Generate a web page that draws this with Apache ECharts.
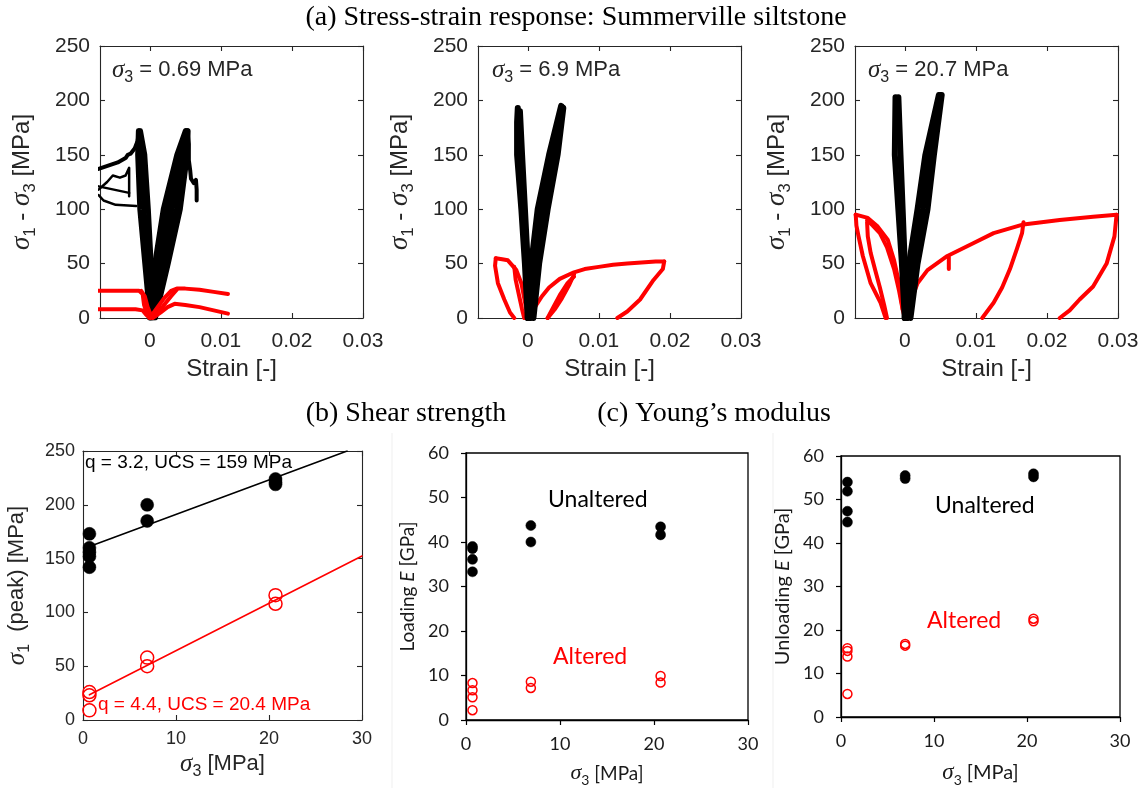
<!DOCTYPE html>
<html>
<head>
<meta charset="utf-8">
<script src="https://cdn.jsdelivr.net/npm/echarts@6/dist/echarts.min.js"></script>
<style>
  html, body { margin: 0; padding: 0; background: #fff; }
  #chart { width: 1146px; height: 788px; }
</style>
</head>
<body>
<div id="chart"></div>
<script>
// ---------- (a) stress-strain curves, [strain, sigma1 - sigma3] ----------
// sigma3 = 0.69 MPa
const s069BlackLatA = [[0, 0], [-0.0007, 50], [-0.0014, 100], [-0.0017, 150], [-0.0016, 172]];
const s069BlackLatM = [[0.0001, 0], [-0.0003, 50], [-0.0008, 100], [-0.0012, 150], [-0.00145, 172]];
const s069BlackLatB = [[0.0003, 0], [0.0002, 50], [-0.0002, 100], [-0.0007, 150], [-0.0013, 172]];
const s069BlackLatPost = [[-0.0015, 172], [-0.0017, 163], [-0.0021, 156], [-0.0027, 151], [-0.0031, 150], [-0.0034, 147], [-0.0045, 143], [-0.0072, 137]];
const s069BlackMess1 = [[-0.0072, 118], [-0.006, 125], [-0.0052, 131], [-0.0042, 129], [-0.0034, 131], [-0.0029, 138], [-0.0029, 112]];
const s069BlackMess2 = [[-0.0072, 121], [-0.0029, 115]];
const s069BlackMess3 = [[-0.0072, 113], [-0.0065, 108], [-0.0048, 104], [-0.0019, 103]];
const s069BlackAxA = [[0, 0], [0.0007, 50], [0.0019, 100], [0.0038, 150], [0.005, 172]];
const s069BlackAxA2 = [[0.0002, 0], [0.0012, 50], [0.0025, 100], [0.0042, 150], [0.0051, 172]];
const s069BlackAxB = [[0.0004, 0], [0.0016, 50], [0.0031, 100], [0.0047, 150], [0.0052, 172]];
const s069BlackAxB2 = [[0.0006, 0], [0.0021, 50], [0.0037, 100], [0.0051, 150], [0.0053, 172]];
const s069BlackAxC = [[0.0008, 0], [0.0026, 50], [0.0043, 100], [0.0053, 150], [0.0054, 172]];
const s069BlackAxPost = [[0.0053, 172], [0.0055, 160], [0.0055, 145], [0.0057, 135], [0.0058, 128], [0.0062, 124], [0.0065, 127], [0.0066, 118], [0.0066, 108]];
const s069RedLatA = [[-0.0072, 25], [-0.005, 25], [-0.003, 25], [-0.0015, 25], [-0.001, 22], [-0.0008, 12], [-0.0004, 4], [0, 0]];
const s069RedLatB = [[-0.0072, 8], [-0.004, 8], [-0.002, 8], [-0.001, 7], [-0.0005, 3], [0, 0]];
const s069RedLatC = [[-0.0012, 25], [-0.0007, 20], [-0.0003, 10], [0.0002, 2]];
const s069RedAxA = [[0, 0], [0.001, 9], [0.002, 18], [0.003, 25], [0.0038, 27], [0.005, 27], [0.007, 26], [0.009, 24], [0.011, 22]];
const s069RedAxB = [[0.0004, 0], [0.0015, 5], [0.0025, 10], [0.0035, 13], [0.005, 12], [0.007, 10], [0.009, 7], [0.011, 4]];
const s069RedAxC = [[0.0008, 2], [0.002, 12], [0.003, 20], [0.0038, 26]];

// sigma3 = 6.9 MPa
const s69BlackLatA = [[0, 0], [-0.0004, 50], [-0.0009, 100], [-0.0015, 150], [-0.0015, 180], [-0.0014, 193]];
const s69BlackLatB = [[0.0002, 0], [0, 50], [-0.0004, 100], [-0.0008, 150], [-0.0011, 190]];
const s69BlackAxA = [[0, 0], [0.0005, 50], [0.0014, 100], [0.003, 150], [0.0047, 195]];
const s69BlackAxM = [[0.0004, 0], [0.0011, 50], [0.0021, 100], [0.0036, 150], [0.00485, 194]];
const s69BlackAxB = [[0.0008, 0], [0.0016, 50], [0.0028, 100], [0.0042, 150], [0.005, 193]];
const s69RedLat = [[0, 0], [-0.0004, 15], [-0.0009, 32], [-0.0016, 44], [-0.0028, 53], [-0.0036, 54], [-0.0045, 55]];
const s69RedLatUnA = [[-0.0045, 55], [-0.0046, 48], [-0.0042, 32], [-0.0033, 17], [-0.0025, 5], [-0.0019, 0]];
const s69RedLatUnB = [[-0.0019, 47], [-0.0017, 35], [-0.0012, 20], [-0.0008, 8], [-0.0005, 0]];
const s69RedAx = [[0, 0], [0.001, 10], [0.002, 20], [0.003, 28], [0.0045, 36], [0.0065, 42], [0.008, 45], [0.01, 47], [0.012, 49], [0.014, 50], [0.016, 51], [0.018, 52], [0.0192, 52]];
const s69RedAxUn = [[0.0192, 52], [0.019, 45], [0.0177, 35], [0.0158, 17], [0.014, 6], [0.0126, 0]];
const s69RedLoopA = [[0.0065, 40], [0.0058, 30], [0.0048, 18], [0.0038, 8], [0.0028, 0]];
const s69RedLoopB = [[0.0028, 0], [0.0036, 10], [0.0046, 22], [0.0056, 32], [0.0065, 38]];

// sigma3 = 20.7 MPa
const s207BlackLatA = [[0, 0], [-0.0004, 50], [-0.0009, 100], [-0.0014, 150], [-0.0013, 203]];
const s207BlackLatB = [[0.0003, 0], [0, 50], [-0.0003, 100], [-0.0006, 150], [-0.0009, 203]];
const s207BlackAxA = [[0, 0], [0.0006, 50], [0.0018, 100], [0.0029, 150], [0.0048, 205]];
const s207BlackAxM = [[0.0004, 0], [0.0012, 50], [0.0025, 100], [0.0035, 150], [0.005, 205]];
const s207BlackAxB = [[0.0008, 0], [0.0018, 50], [0.0032, 100], [0.0041, 150], [0.0052, 205]];
const s207RedLat = [[0, 0], [-0.0003, 8], [-0.0008, 32], [-0.0015, 53], [-0.0024, 72], [-0.0038, 84], [-0.0052, 92], [-0.0069, 95]];
const s207RedLatUnA = [[-0.0069, 95], [-0.0068, 85], [-0.0065, 75], [-0.0059, 57], [-0.0048, 32], [-0.0034, 14], [-0.0027, 0]];
const s207RedLatUnB = [[-0.0053, 88], [-0.0052, 75], [-0.0048, 60], [-0.0042, 45], [-0.0035, 28], [-0.0029, 12], [-0.0025, 0]];
const s207RedLatInner = [[-0.0053, 90], [-0.0045, 85], [-0.0035, 78], [-0.0025, 65], [-0.0015, 45], [-0.0008, 25], [-0.0003, 8]];
const s207RedAx = [[0, 0], [0.0004, 8], [0.0018, 32], [0.0032, 44], [0.006, 57], [0.0097, 69], [0.0125, 78], [0.0167, 86], [0.0218, 90], [0.0265, 93], [0.0298, 95]];
const s207RedAxUnA = [[0.0167, 88], [0.0165, 78], [0.0158, 64], [0.0148, 45], [0.0137, 28], [0.0125, 14], [0.0109, 0]];
const s207RedAxUnB = [[0.0298, 95], [0.0295, 75], [0.0284, 50], [0.0265, 29], [0.0246, 17], [0.0232, 7], [0.0218, 0]];
const s207RedSpike = [[0.0062, 56], [0.0062, 45]];

// ---------- (b) shear strength, [sigma3, sigma1 peak] ----------
const peakUnaltered = [[0.69, 173], [0.69, 160], [0.69, 156], [0.69, 152], [0.69, 142], [6.9, 200], [6.9, 185], [20.7, 224], [20.7, 221], [20.7, 219]];
const peakAltered = [[0.69, 26], [0.69, 23], [0.69, 9], [6.9, 58], [6.9, 50], [20.7, 116], [20.7, 108]];
const fitUnaltered = [[0.69, 161.2], [28.4, 250]];
const fitAltered = [[0.69, 23.4], [30, 152.4]];

// ---------- (c) Young's modulus, [sigma3, E GPa] ----------
const loadUnaltered = [[0.69, 39.0], [0.69, 38.5], [0.69, 36.1], [0.69, 33.3], [6.9, 43.7], [6.9, 40.0], [20.7, 43.4], [20.7, 41.6]];
const loadAltered = [[0.69, 8.3], [0.69, 6.7], [0.69, 5.1], [0.69, 2.2], [6.9, 8.6], [6.9, 7.2], [20.7, 9.9], [20.7, 8.4]];
const unloadUnaltered = [[0.69, 54.0], [0.69, 51.9], [0.69, 47.3], [0.69, 44.8], [6.9, 55.5], [6.9, 54.8], [20.7, 55.9], [20.7, 55.2]];
const unloadAltered = [[0.69, 15.8], [0.69, 15.2], [0.69, 13.9], [0.69, 5.3], [6.9, 16.8], [6.9, 16.4], [20.7, 22.6], [20.7, 22.0]];

const strainTicks = [0, 0.01, 0.02, 0.03];

const ARIAL = '"Liberation Sans", Arial, sans-serif';
const SERIF = '"Liberation Serif", "Times New Roman", serif';
const CAL = 'Lato, "Open Sans", sans-serif';
const INK = '#262626';
const RED = '#ff0000';

const grids = [], xAxes = [], yAxes = [], series = [], graphics = [];

// rich styles for sigma with subscript
function sigmaRich(size, fam, color) {
  const sub = Math.round(size * 0.72);
  return {
    n: { fontFamily: fam, fontSize: size, color: color, fill: color, lineHeight: size + 4 },
    i: { fontFamily: fam, fontStyle: 'italic', fontSize: size, color: color, fill: color, lineHeight: size + 4 },
    s: { fontFamily: SERIF, fontStyle: 'italic', fontSize: size + 3, color: color, fill: color, lineHeight: size + 4 },
    sub: { fontFamily: fam, fontSize: sub, color: color, fill: color, lineHeight: sub + 2, padding: [Math.round(size * 0.7), 0, 0, 0] }
  };
}

function addMatlab(rect, xr, yr, names, st) {
  const gi = grids.length;
  grids.push({ left: rect[0], top: rect[1], width: rect[2], height: rect[3] });
  const axLine = { show: true, onZero: false, lineStyle: { color: INK, width: 1.1 } };
  const custom = xr.ticks ? { customValues: xr.ticks } : {};
  const xi = xAxes.length, yi = yAxes.length;
  const xBase = { type: 'value', gridIndex: gi, min: xr.min, max: xr.max, splitLine: { show: false }, axisLine: axLine };
  if (!xr.ticks) xBase.interval = xr.interval;
  const xTick = Object.assign({ show: true, inside: true, length: 5, lineStyle: { color: INK, width: 1.1 } }, custom);
  xAxes.push(Object.assign({}, xBase, {
    position: 'bottom', axisTick: xTick,
    axisLabel: Object.assign({ fontFamily: ARIAL, fontSize: st.tick, color: INK, margin: st.xMargin }, custom),
    name: names[0], nameLocation: 'middle', nameGap: st.xGap,
    nameTextStyle: { fontFamily: ARIAL, fontSize: st.label, color: INK, rich: sigmaRich(st.label, ARIAL, INK) }
  }));
  xAxes.push(Object.assign({}, xBase, { position: 'top', axisTick: xTick, axisLabel: { show: false } }));
  const yBase = { type: 'value', gridIndex: gi, min: yr.min, max: yr.max, interval: yr.interval, splitLine: { show: false }, axisLine: axLine };
  const yTick = { show: true, inside: true, length: 5, lineStyle: { color: INK, width: 1.1 } };
  yAxes.push(Object.assign({}, yBase, {
    position: 'left', axisTick: yTick,
    axisLabel: { fontFamily: ARIAL, fontSize: st.tick, color: INK, margin: st.yMargin },
    name: names[1], nameLocation: 'middle', nameGap: st.yGap, nameRotate: 90,
    nameTextStyle: { fontFamily: ARIAL, fontSize: st.label, color: INK, rich: sigmaRich(st.label, ARIAL, INK) }
  }));
  yAxes.push(Object.assign({}, yBase, { position: 'right', axisTick: yTick, axisLabel: { show: false } }));
  return { x: xi, y: yi };
}

function addExcel(rect, names, st) {
  const gi = grids.length;
  grids.push({ left: rect[0], top: rect[1], width: rect[2], height: rect[3], show: true, borderColor: '#000', borderWidth: 1.3 });
  const axLine = { show: true, onZero: false, lineStyle: { color: '#000', width: 1.3 } };
  const tick = { show: true, inside: false, length: 5, lineStyle: { color: '#000', width: 1.2 } };
  const xi = xAxes.length, yi = yAxes.length;
  xAxes.push({
    type: 'value', gridIndex: gi, min: 0, max: 30, interval: 10, position: 'bottom',
    axisLine: axLine, axisTick: tick, splitLine: { show: false },
    axisLabel: { fontFamily: CAL, fontSize: 18, color: '#1a1a1a', margin: st.xMargin },
    name: names[0], nameLocation: 'middle', nameGap: st.xGap,
    nameTextStyle: { fontFamily: CAL, fontSize: st.label, color: '#1a1a1a', rich: sigmaRich(st.label, CAL, '#1a1a1a') }
  });
  yAxes.push({
    type: 'value', gridIndex: gi, min: 0, max: 60, interval: 10, position: 'left',
    axisLine: axLine, axisTick: tick, splitLine: { show: false },
    axisLabel: { fontFamily: CAL, fontSize: 18, color: '#1a1a1a', margin: 17 },
    name: names[1], nameLocation: 'middle', nameGap: st.yGap, nameRotate: 90,
    nameTextStyle: { fontFamily: CAL, fontSize: st.label, color: '#1a1a1a', rich: sigmaRich(st.label, CAL, '#1a1a1a') }
  });
  return { x: xi, y: yi };
}

function curve(ax, data, color, width) {
  series.push({
    type: 'line', xAxisIndex: ax.x, yAxisIndex: ax.y, data: data,
    showSymbol: false, symbol: 'none', silent: true, animation: false, clip: true,
    lineStyle: { color: color, width: width, cap: 'round', join: 'round' }
  });
}

function dots(ax, data, filled, color, size) {
  series.push({
    type: 'scatter', xAxisIndex: ax.x, yAxisIndex: ax.y, data: data, symbol: 'circle', symbolSize: size,
    silent: true, animation: false, z: 5,
    itemStyle: filled ? { color: color, borderColor: color, borderWidth: 0.5, opacity: 1 }
                      : { color: 'rgba(255,255,255,0)', borderColor: color, borderWidth: 1.5, opacity: 1 }
  });
}

function gtext(x, y, text, font, fill, align, rich) {
  graphics.push({
    type: 'text', x: x, y: y, silent: true, z: 10,
    style: { text: text, font: font, fill: fill, align: align || 'left', textAlign: align || 'left',
             verticalAlign: 'middle', textVerticalAlign: 'middle', rich: rich }
  });
}

// ---------- panels ----------
const topSt = { tick: 21, label: 24, xMargin: 13, yMargin: 10, xGap: 39, yGap: 64 };
const strainName = 'Strain [-]';
const devName = '{s|σ}{sub|1}{n| - }{s|σ}{sub|3}{n| [MPa]}';
const strainRange = { min: -0.007, max: 0.03, ticks: strainTicks };
const devRange = { min: 0, max: 250, interval: 50 };

const a1 = addMatlab([100, 46, 263, 272], strainRange, devRange, [strainName, devName], topSt);
const a2 = addMatlab([478, 46, 263, 272], strainRange, devRange, [strainName, devName], topSt);
const a3 = addMatlab([855, 46, 263, 272], strainRange, devRange, [strainName, devName], topSt);

const bSt = { tick: 18, label: 22, xMargin: 10, yMargin: 8, xGap: 30, yGap: 53 };
const bAx = addMatlab([83, 451, 279, 269], { min: 0, max: 30, interval: 10 }, { min: 0, max: 250, interval: 50 },
  ['{s|σ}{sub|3}{n| [MPa]}', '{s|σ}{sub|1}{n|  (peak) [MPa]}'], bSt);

const c1 = addExcel([466, 453, 282, 268], ['{s|σ}{sub|3}{n| [MPa]}', '{n|Loading }{i|E}{n| [GPa]}'], { label: 19, xMargin: 15, xGap: 42, yGap: 47 });
const c2 = addExcel([841, 456, 279, 264], ['{s|σ}{sub|3}{n| [MPa]}', '{n|Unloading }{i|E}{n| [GPa]}'], { label: 20, xMargin: 15, xGap: 44, yGap: 46 });

// panel a1: black first, red on top
[s069BlackLatA, s069BlackLatM, s069BlackLatB, s069BlackAxA, s069BlackAxA2, s069BlackAxB, s069BlackAxB2, s069BlackAxC].forEach(d => curve(a1, d, '#000', 5));
[s069BlackLatPost, s069BlackAxPost].forEach(d => curve(a1, d, '#000', 4));
[s069BlackMess1, s069BlackMess2, s069BlackMess3].forEach(d => curve(a1, d, '#000', 2.5));
[s069RedLatA, s069RedLatB, s069RedLatC, s069RedAxA, s069RedAxB, s069RedAxC].forEach(d => curve(a1, d, RED, 4));

// panel a2
[s69RedLat, s69RedLatUnA, s69RedLatUnB, s69RedAx, s69RedAxUn, s69RedLoopA, s69RedLoopB].forEach(d => curve(a2, d, RED, 4));
[s69BlackLatA, s69BlackLatB, s69BlackAxA, s69BlackAxM, s69BlackAxB].forEach(d => curve(a2, d, '#000', 6));

// panel a3
[s207RedLat, s207RedLatUnA, s207RedLatUnB, s207RedLatInner, s207RedAx, s207RedAxUnA, s207RedAxUnB, s207RedSpike].forEach(d => curve(a3, d, RED, 4));
[s207BlackLatA, s207BlackLatB, s207BlackAxA, s207BlackAxM, s207BlackAxB].forEach(d => curve(a3, d, '#000', 6));

// panel b
curve(bAx, fitUnaltered, '#000', 1.6);
curve(bAx, fitAltered, RED, 1.6);
dots(bAx, peakUnaltered, true, '#000', 13);
dots(bAx, peakAltered, false, RED, 13);

// panel c
dots(c1, loadUnaltered, true, '#000', 10);
dots(c1, loadAltered, false, RED, 9);
dots(c2, unloadUnaltered, true, '#000', 10);
dots(c2, unloadAltered, false, RED, 9);

// ---------- texts ----------
const TITLE_FONT = '28px "Liberation Serif", "Times New Roman", serif';
gtext(576, 18, '(a) Stress-strain response: Summerville siltstone', TITLE_FONT, '#000', 'center');
gtext(406, 414, '(b) Shear strength', TITLE_FONT, '#000', 'center');
gtext(714, 414, '(c) Young\u2019s modulus', TITLE_FONT, '#000', 'center');

const annRich = sigmaRich(22, ARIAL, INK);
gtext(112, 70, '{s|σ}{sub|3}{n| = 0.69 MPa}', '22px ' + ARIAL, INK, 'left', annRich);
gtext(492, 70, '{s|σ}{sub|3}{n| = 6.9 MPa}', '22px ' + ARIAL, INK, 'left', annRich);
gtext(868, 70, '{s|σ}{sub|3}{n| = 20.7 MPa}', '22px ' + ARIAL, INK, 'left', annRich);

gtext(85, 463, 'q = 3.2, UCS = 159 MPa', '19px ' + ARIAL, '#000', 'left');
gtext(98, 705, 'q = 4.4, UCS = 20.4 MPa', '19px ' + ARIAL, RED, 'left');

gtext(548, 500, 'Unaltered', '23px ' + CAL, '#000', 'left');
gtext(553, 657, 'Altered', '23px ' + CAL, RED, 'left');
gtext(935, 506, 'Unaltered', '23px ' + CAL, '#000', 'left');
gtext(927, 621, 'Altered', '23px ' + CAL, RED, 'left');

// faint borders of the pasted Excel panels
graphics.push({ type: 'line', silent: true, shape: { x1: 392, y1: 433, x2: 392, y2: 788 }, style: { stroke: '#efefef', lineWidth: 1 } });
graphics.push({ type: 'line', silent: true, shape: { x1: 773, y1: 433, x2: 773, y2: 788 }, style: { stroke: '#efefef', lineWidth: 1 } });

const chart = echarts.init(document.getElementById('chart'));
chart.setOption({
  backgroundColor: '#fff',
  animation: false,
  grid: grids,
  xAxis: xAxes,
  yAxis: yAxes,
  series: series,
  graphic: graphics
});
</script>
</body>
</html>
